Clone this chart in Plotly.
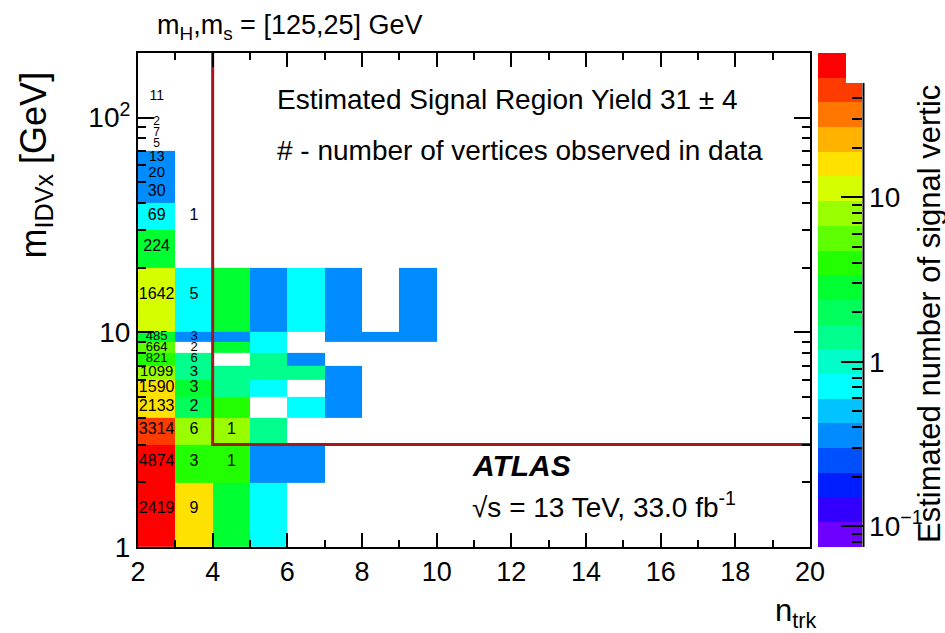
import numpy as np
import plotly.graph_objects as go

# ---- binning ---------------------------------------------------------------
ntrk_edges = list(range(2, 21))                       # n_trk bin edges
mass_edges = [1, 2, 3, 4, 5, 6, 7, 8, 9, 10,
              20, 30, 40, 50, 60, 70, 80, 90, 100, 150]  # m_DV bin edges [GeV]

# ---- estimated signal vertices (rows: mass bins low->high, cols: n_trk = 2..9)
signal = [
    [63, 16, 2.8, 0.71, None, None, None, None],        # 1-2
    [63, 4.0, 4.0, 0.35, 0.35, None, None, None],       # 2-3
    [45, 7.9, 7.2, 1.3, None, None, None, None],        # 3-4
    [16, 2.0, 3.6, None, 0.71, 0.35, None, None],       # 4-5
    [16, 2.8, 1.3, 0.71, None, 0.35, None, None],       # 5-6
    [7.9, 1.4, 1.3, 1.3, 1.3, 0.35, None, None],        # 6-7
    [4.0, 1.4, None, 1.3, 0.35, None, None, None],      # 7-8
    [5.6, None, 2.5, 0.71, None, None, None, None],     # 8-9
    [2.8, 0.35, 0.35, 0.71, None, 0.35, 0.35, 0.35],    # 9-10
    [11, 0.71, 2.5, 0.35, 0.71, 0.35, None, 0.35],      # 10-20
    [2.8, None, None, None, None, None, None, None],    # 20-30
    [0.71, None, None, None, None, None, None, None],   # 30-40
    [0.35, None, None, None, None, None, None, None],   # 40-50
    [0.35, None, None, None, None, None, None, None],   # 50-60
    [0.35, None, None, None, None, None, None, None],   # 60-70
    [None] * 8,                                         # 70-80
    [None] * 8,                                         # 80-90
    [None] * 8,                                         # 90-100
    [None] * 8,                                         # 100-150
]

# ---- vertices observed in data (per mass bin, low->high) --------------------
observed_ntrk2 = [2419, 4874, 3314, 2133, 1590, 1099, 821, 664, 485, 1642,
                  224, 69, 30, 20, 13, 5, 7, 2, 11]
observed_ntrk3 = [9, 3, 6, 2, 3, 3, 6, 2, 3, 5, None, 1]
observed_ntrk4 = [None, 1, 1]
observed_cols = {2: observed_ntrk2, 3: observed_ntrk3, 4: observed_ntrk4}

# label size per mass row (narrow log bins get smaller numbers)
label_size = [16, 16, 16, 16, 16, 15, 13, 13, 13, 16, 16, 16, 16, 15, 14, 12, 12, 12, 14]

# ---- 20-step rainbow palette, violet -> red ---------------------------------
palette = ["#6e00ff", "#3300ff", "#001eff", "#0050ff", "#008cff",
           "#00c3ff", "#00ffff", "#00ffc8", "#00ff8c", "#00ff5a",
           "#00ff30", "#22ff00", "#5eff00", "#99ff00", "#d5ff00",
           "#ffe100", "#ffb200", "#ff7700", "#ff3c00", "#ff0000"]
zlog_min, zlog_max = np.log10(0.075), np.log10(75.0)

nb = len(palette)
colorscale = []
for i, c in enumerate(palette):
    colorscale.append([i / nb, c])
    colorscale.append([(i + 1) / nb, c])

# ---- grids -------------------------------------------------------------------
ncols = len(ntrk_edges) - 1
z = np.full((len(mass_edges) - 1, ncols), np.nan)
for r, row in enumerate(signal):
    for c, v in enumerate(row):
        if v is not None:
            z[r, c] = np.log10(v)

txt_x, txt_y, txt_s, txt_size = [], [], [], []
for col, counts in observed_cols.items():
    for r, n in enumerate(counts):
        if n is None:
            continue
        txt_x.append(col + 0.5)
        txt_y.append(0.5 * (mass_edges[r] + mass_edges[r + 1]))
        txt_s.append(str(n))
        txt_size.append(label_size[r])

FONT = "Liberation Sans, Arial, Helvetica, sans-serif"

# canvas and frame in pixels
W, H = 945, 633
L, R, T, B = 138, 810, 53, 547          # histogram frame
PAPER_W = W - L                          # paper spans from the left margin to the right edge
def px(x):
    return (x - L) / PAPER_W
def py(y):
    return (B - y) / (B - T)

fig = go.Figure()

fig.add_trace(go.Heatmap(
    x=ntrk_edges, y=mass_edges, z=z, coloraxis="coloraxis",
    hoverinfo="skip", xgap=0, ygap=0,
))
# single transparent cell that carries the overlay scale (major ticks + labels)
fig.add_trace(go.Heatmap(
    x=[19, 20], y=[100, 150], z=[[zlog_min]], coloraxis="coloraxis2",
    hoverinfo="skip", showlegend=False,
))

# signal-region boundary
fig.add_trace(go.Scatter(
    x=[4, 4, 20], y=[200, 3, 3], mode="lines",
    line=dict(color="#a3181a", width=3), hoverinfo="skip", showlegend=False,
    cliponaxis=False,
))

fig.add_trace(go.Scatter(
    x=txt_x, y=txt_y, text=txt_s, mode="text",
    textfont=dict(family=FONT, size=txt_size, color="black"),
    hoverinfo="skip", showlegend=False,
))

minor_vals = [0.08, 0.09] + [k / 10 for k in range(2, 10)] + list(range(2, 10)) + [20, 30, 40, 50, 60, 70]

fig.update_layout(
    width=W, height=H,
    margin=dict(l=L, r=0, t=T, b=H - B, pad=0, autoexpand=False),
    paper_bgcolor="white", plot_bgcolor="white",
    font=dict(family=FONT, color="black"),
    showlegend=False,
    xaxis=dict(
        domain=[0, px(R)], automargin=False,
        range=[2, 20], tickmode="array", tickvals=list(range(2, 21, 2)),
        ticks="inside", ticklen=14, tickwidth=1.5, tickcolor="black",
        showline=True, linecolor="black", linewidth=2, mirror="allticks",
        showgrid=False, zeroline=False,
        tickfont=dict(size=27, family=FONT),
        minor=dict(tickmode="array", tickvals=list(range(3, 20, 2)),
                   ticks="inside", ticklen=7, tickwidth=1.5, tickcolor="black", showgrid=False),
    ),
    yaxis=dict(
        type="log", range=[0, np.log10(200)], automargin=False,
        tickmode="array", tickvals=[1, 10, 100], ticktext=["1", "10", "10<sup>2</sup>"],
        ticks="inside", ticklen=16, tickwidth=1.5, tickcolor="black",
        showline=True, linecolor="black", linewidth=2, mirror="allticks",
        showgrid=False, zeroline=False,
        tickfont=dict(size=28, family=FONT),
        minor=dict(tickmode="array",
                   tickvals=list(range(2, 10)) + list(range(20, 100, 10)) + [200],
                   ticks="inside", ticklen=8, tickwidth=1.5, tickcolor="black", showgrid=False),
    ),
    coloraxis=dict(
        colorscale=colorscale, cmin=zlog_min, cmax=zlog_max,
        colorbar=dict(
            x=px(818), xanchor="left", xpad=0, y=0.5, yanchor="middle",
            len=1, lenmode="fraction", ypad=0, thickness=44, outlinewidth=0,
            tickmode="array", tickvals=list(np.log10(minor_vals)),
            showticklabels=False,
            ticks="inside", ticklen=10, tickwidth=1.5, tickcolor="black",
        ),
    ),
    coloraxis2=dict(
        colorscale=[[0, "rgba(255,255,255,0)"], [0.939, "rgba(255,255,255,0)"],
                    [0.939, "white"], [1, "white"]],
        cmin=zlog_min, cmax=zlog_max,
        colorbar=dict(
            x=px(846), xanchor="left", xpad=0, y=0.5, yanchor="middle",
            len=1, lenmode="fraction", ypad=0, thickness=17, outlinewidth=0,
            tickmode="array", tickvals=[-1, 0, 1],
            ticktext=["10<sup>−1</sup>", "1", "10"],
            ticks="inside", ticklen=22, tickwidth=1.5, tickcolor="black",
            tickfont=dict(size=28, family=FONT),
        ),
    ),
)

# right edge of the colour scale
fig.add_shape(type="line", xref="paper", yref="paper",
              x0=px(863.5), x1=px(863.5), y0=py(547), y1=py(83),
              line=dict(color="black", width=2))

ann = dict(xref="paper", yref="paper", showarrow=False)
fig.add_annotation(x=px(155), y=py(27), xanchor="left", yanchor="middle",
                   text="m<sub>H</sub>,m<sub>s</sub> = [125,25] GeV",
                   font=dict(family=FONT, size=27, color="black"), **ann)
fig.add_annotation(x=px(275), y=py(100), xanchor="left", yanchor="middle",
                   text="Estimated Signal Region Yield 31 ± 4",
                   font=dict(family=FONT, size=28, color="black"), **ann)
fig.add_annotation(x=px(275), y=py(150), xanchor="left", yanchor="middle",
                   text="# - number of vertices observed in data",
                   font=dict(family=FONT, size=28, color="black"), **ann)
fig.add_annotation(x=px(470), y=py(465), xanchor="left", yanchor="middle",
                   text="<b><i>ATLAS</i></b>",
                   font=dict(family=FONT, size=30, color="black"), **ann)
fig.add_annotation(x=px(470), y=py(505), xanchor="left", yanchor="middle",
                   text="√s = 13 TeV, 33.0 fb<sup>-1</sup>",
                   font=dict(family=FONT, size=28, color="black"), **ann)

# axis titles
fig.add_annotation(x=px(35), y=py(70), xanchor="center", yanchor="top", textangle=-90,
                   text="m<sub>IDVx</sub> [GeV]",
                   font=dict(family=FONT, size=36, color="black"), **ann)
fig.add_annotation(x=px(818), y=py(613), xanchor="right", yanchor="middle",
                   text="n<sub>trk</sub>",
                   font=dict(family=FONT, size=31, color="black"), **ann)
fig.add_annotation(x=px(929), y=py(545), xanchor="center", yanchor="bottom", textangle=-90,
                   text="Estimated number of signal vertic",
                   font=dict(family=FONT, size=31, color="black"), **ann)

fig.write_html("out.html")
